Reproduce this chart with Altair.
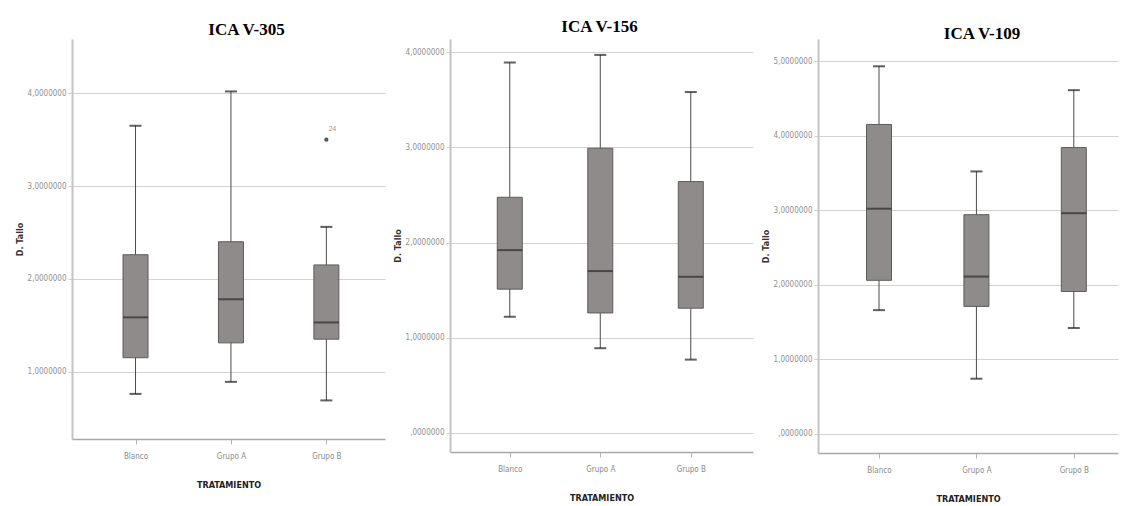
import altair as alt
import pandas as pd

categories = ["Blanco", "Grupo A", "Grupo B"]
titles = ["ICA V-305", "ICA V-156", "ICA V-109"]

# ICA V-305
v305_low = [0.76, 0.89, 0.69]
v305_q1 = [1.15, 1.31, 1.35]
v305_med = [1.585, 1.78, 1.53]
v305_q3 = [2.26, 2.40, 2.15]
v305_high = [3.65, 4.02, 2.56]
v305_out_cat = ["Grupo B"]
v305_out_val = [3.50]
v305_out_lab = ["24"]

# ICA V-156
v156_low = [1.22, 0.89, 0.77]
v156_q1 = [1.51, 1.26, 1.31]
v156_med = [1.92, 1.70, 1.64]
v156_q3 = [2.475, 2.99, 2.64]
v156_high = [3.89, 3.97, 3.58]

# ICA V-109
v109_low = [1.66, 0.74, 1.42]
v109_q1 = [2.06, 1.71, 1.91]
v109_med = [3.02, 2.11, 2.96]
v109_q3 = [4.15, 2.94, 3.84]
v109_high = [4.93, 3.52, 4.61]

ticks_305 = [1, 2, 3, 4]
ticks_156 = [0, 1, 2, 3, 4]
ticks_109 = [0, 1, 2, 3, 4, 5]

LABEL_EXPR = "datum.value == 0 ? ',0000000' : replace(format(datum.value, '.7f'), '.', ',')"
SANS_C = "DejaVu Sans Condensed, DejaVu Sans, Liberation Sans"


def panel(title, low, q1, med, q3, high, ticks, domain, width, height,
          pad, align, tdx, tdy, outliers=None):
    df = pd.DataFrame({"cat": categories, "low": low, "q1": q1, "med": med,
                       "q3": q3, "high": high})
    xenc = alt.X("cat:N", sort=categories,
                 scale=alt.Scale(type="point", padding=pad, align=align),
                 axis=alt.Axis(title="TRATAMIENTO", labelAngle=0,
                               labelFont=SANS_C,
                               labelFontSize=8, labelColor="#8a8a8a",
                               labelPadding=8, tickSize=5, tickColor="#b5b5b5",
                               domainColor="#a8a8a8", domainWidth=1.5,
                               titleFont=SANS_C,
                               titleFontSize=9, titleFontWeight="bold",
                               titleColor="#222", titlePadding=20))
    yscale = alt.Scale(domain=domain, nice=False, zero=False)
    yaxis = alt.Axis(title="D. Tallo", values=ticks, labelExpr=LABEL_EXPR,
                     labelFontSize=8, labelColor="#8f8f8f",
                     labelFont=SANS_C,
                     grid=True, gridColor="#d2d2d2", gridWidth=1,
                     tickSize=4, tickColor="#d2d2d2",
                     domainColor="#c4c4c4", domainWidth=2,
                     minExtent=46, maxExtent=46,
                     titleFont=SANS_C,
                     titleFontSize=9, titleFontWeight="bold", titleColor="#333",
                     titlePadding=2)

    def Y(f):
        return alt.Y(f"{f}:Q", scale=yscale, axis=yaxis)

    base = alt.Chart(df)
    whisk = base.mark_rule(color="#4a4a4a", strokeWidth=1).encode(
        x=xenc, y=Y("low"), y2="high")
    box = base.mark_bar(size=25, color="#8f8b8b", stroke="#5e5b5b",
                        strokeWidth=1).encode(x=xenc, y=Y("q1"), y2="q3")
    medl = base.mark_tick(color="#2a2a2a", thickness=2, size=25).encode(
        x=xenc, y=Y("med"))
    caplo = base.mark_tick(color="#1e1e1e", thickness=2, size=12).encode(
        x=xenc, y=Y("low"))
    caphi = base.mark_tick(color="#1e1e1e", thickness=2, size=12).encode(
        x=xenc, y=Y("high"))
    layers = [whisk, box, medl, caplo, caphi]
    if outliers is not None:
        odf = pd.DataFrame({"cat": outliers[0], "val": outliers[1],
                            "lab": outliers[2]})
        ob = alt.Chart(odf)
        layers.append(ob.mark_circle(size=18, color="#555", opacity=1).encode(
            x=xenc, y=Y("val")))
        layers.append(ob.mark_text(dx=6, dy=-11, fontSize=7,
                                   color="#999").encode(
            x=xenc, y=Y("val"), text="lab:N"))
    return alt.layer(*layers).properties(
        width=width, height=height,
        title=alt.TitleParams(title, font="Liberation Serif", fontSize=17,
                              fontWeight="bold", color="black",
                              anchor="middle", offset=6, dx=tdx, dy=tdy))


p1 = panel(titles[0], v305_low, v305_q1, v305_med, v305_q3, v305_high,
           ticks_305, [0.274, 4.585], 313, 400, 0.64, 0.52, 18, 6,
           outliers=(v305_out_cat, v305_out_val, v305_out_lab))
p2 = panel(titles[1], v156_low, v156_q1, v156_med, v156_q3, v156_high,
           ticks_156, [-0.2, 4.137], 303, 413, 0.674, 0.49, -2, 3)
p3 = panel(titles[2], v109_low, v109_q1, v109_med, v109_q3, v109_high,
           ticks_109, [-0.256, 5.296], 300, 414, 0.54, 0.58, 14, 10)

chart = alt.hconcat(
    p1, p2, p3, spacing=8, background="white",
    padding=alt.Padding(top=10, left=7, right=3, bottom=0)
).configure_view(stroke=None)

chart.save("out.html", embed_options={"renderer": "svg", "actions": False})
